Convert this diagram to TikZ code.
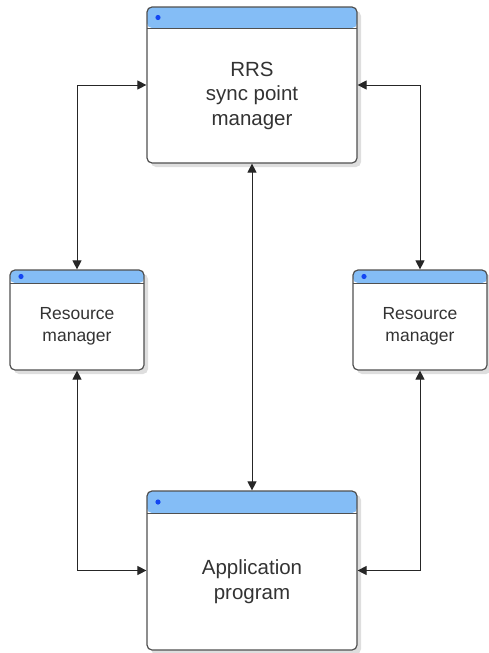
\documentclass[tikz,border=0pt]{standalone}
\usepackage{fontspec}
\setmainfont{Liberation Sans}
\usetikzlibrary{arrows.meta,shadows}

\definecolor{headblue}{HTML}{84BDF6}
\definecolor{dotblue}{HTML}{1446F2}
\definecolor{framegray}{HTML}{505050}
\definecolor{textgray}{HTML}{333333}

\tikzstyle{win}=[
    draw=framegray,line width=1.2pt,rounded corners=5pt,fill=white,
    drop shadow={shadow xshift=4pt,shadow yshift=-4pt,opacity=1,fill=black!13}]
\tikzset{header/.style={
    path picture={
        \fill[headblue] (path picture bounding box.north west)
                        rectangle ([yshift=-#1]path picture bounding box.north east);
        \draw[framegray,line width=1pt] ([yshift=-#1]path picture bounding box.north west)
                        -- ([yshift=-#1]path picture bounding box.north east);
        \fill[dotblue] ([xshift=11pt,yshift=-#1/2]path picture bounding box.north west) circle (2.6pt);
    }}}
\tikzstyle{wintext}=[align=center,text=textgray,font=\fontsize{20.5}{24.5}\selectfont]
\tikzstyle{smalltext}=[align=center,text=textgray,font=\fontsize{17.5}{22}\selectfont]
\tikzstyle{link}=[{Triangle[length=9pt,width=9pt]}-{Triangle[length=9pt,width=9pt]},
    draw=black!85,line width=1pt]

\begin{document}
\begin{tikzpicture}[x=1pt,y=-1pt]
    \useasboundingbox (0,0) rectangle (488,653);

    \node[win,header=21pt,minimum width=210pt,minimum height=156pt,
          label={[wintext,yshift=-10.5pt]center:RRS\\sync point\\manager}] (rrs) at (252,85) {};
    \node[win,header=13pt,minimum width=134pt,minimum height=100pt,
          label={[smalltext,yshift=-6.5pt]center:Resource\\manager}] (rmL) at (77,320) {};
    \node[win,header=13pt,minimum width=134pt,minimum height=100pt,
          label={[smalltext,yshift=-6.5pt]center:Resource\\manager}] (rmR) at (420,320) {};
    \node[win,header=22pt,minimum width=210pt,minimum height=159pt,
          label={[wintext,yshift=-11pt]center:Application\\program}] (app) at (252,570.5) {};

    \draw[link] (rmL.north) |- (rrs.west);
    \draw[link] (rmR.north) |- (rrs.east);
    \draw[link] (rrs.south) -- (app.north);
    \draw[link] (rmL.south) |- (app.west);
    \draw[link] (rmR.south) |- (app.east);
\end{tikzpicture}
\end{document}
